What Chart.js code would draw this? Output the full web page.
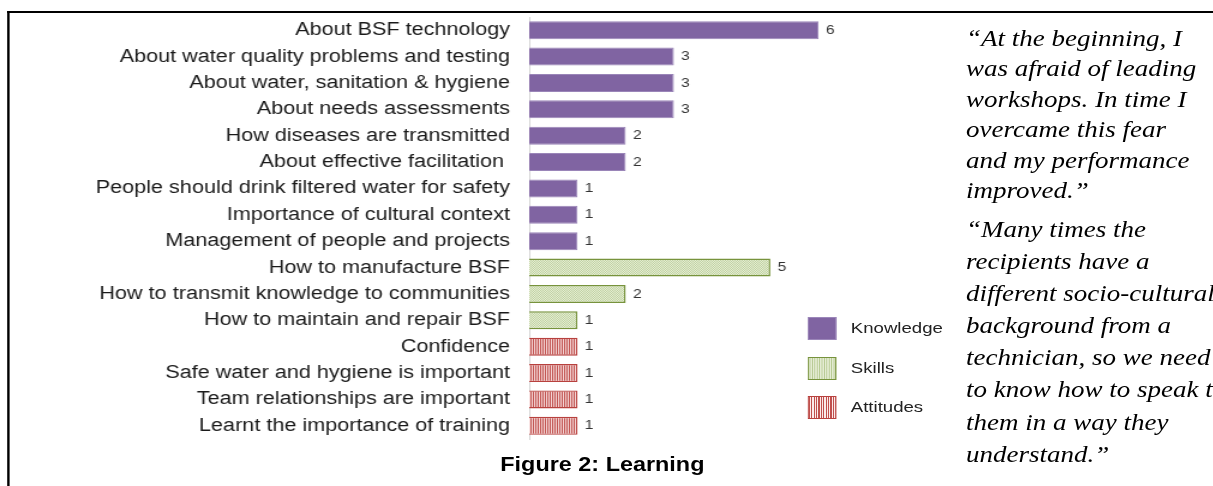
<!DOCTYPE html>
<html>
<head>
<meta charset="utf-8">
<script src="https://cdn.jsdelivr.net/npm/chart.js@4/dist/chart.umd.min.js"></script>
<style>
  html, body { margin: 0; padding: 0; background: #fff; overflow: hidden; width: 1213px; height: 486px; }
  /* the source figure is stretched sideways, so the whole page is drawn narrow and scaled */
  #page { position: absolute; left: 0; top: 0; width: 1011px; height: 486px; transform: scaleX(1.2); transform-origin: 0 0; }
  #frame { position: absolute; left: 6px; top: 11px; width: 1100px; height: 600px; border-top: 2px solid #000; border-left: 2px solid #000; }
  #chartBox { position: absolute; left: 0; top: 0; width: 800px; height: 450px; }
  .legend { position: absolute; left: 673px; font: 15.5px "Liberation Sans", Arial, sans-serif; color: #222; }
  .legend span.box { position: absolute; left: 0; top: 0; width: 23.5px; height: 23px; box-sizing: border-box; }
  .legend span.txt { position: absolute; left: 36px; top: 2px; white-space: nowrap; }
  #title { position: absolute; left: 402px; top: 453px; width: 200px; text-align: center; font: bold 19.5px "Liberation Sans", Arial, sans-serif; color: #000; }
  .quote { position: absolute; left: 805px; font: italic 22.5px "Liberation Serif", "Times New Roman", serif; color: #000; white-space: nowrap; }
</style>
</head>
<body>
<div id="page">
  <div id="frame"></div>
  <div id="chartBox"><canvas id="chart"></canvas></div>

  <div class="legend" style="top:317px"><span class="box" style="background:#8064A2;border:1px solid #9b86b9"></span><span class="txt">Knowledge</span></div>
  <div class="legend" style="top:357px"><span class="box" style="background:#e3ebd2 radial-gradient(#b3c78d 0.6px, transparent 0.8px) 0 0/2px 2px;border:1.5px solid #77933C"></span><span class="txt">Skills</span></div>
  <div class="legend" style="top:396px"><span class="box" style="background:repeating-linear-gradient(90deg,#c0504d 0 1px,#fbeaea 1px 2px);border:1.5px solid #b8413e"></span><span class="txt">Attitudes</span></div>

  <div id="title">Figure 2: Learning</div>

  <div class="quote" style="top:24px;line-height:30.4px">“At the beginning, I<br>was afraid of leading<br>workshops. In time I<br>overcame this fear<br>and my performance<br>improved.”</div>
  <div class="quote" style="top:214px;line-height:32.1px">“Many times the<br>recipients have a<br>different socio-cultural<br>background from a<br>technician, so we need<br>to know how to speak to<br>them in a way they<br>understand.”</div>
</div>

<script>
const categories = [
  "About BSF technology",
  "About water quality problems and testing",
  "About water, sanitation & hygiene",
  "About needs assessments",
  "How diseases are transmitted",
  "About effective facilitation ",
  "People should drink filtered water for safety",
  "Importance of cultural context",
  "Management of people and projects",
  "How to manufacture BSF",
  "How to transmit knowledge to communities",
  "How to maintain and repair BSF",
  "Confidence",
  "Safe water and hygiene is important",
  "Team relationships are important",
  "Learnt the importance of training"
];
const counts = [6, 3, 3, 3, 2, 2, 1, 1, 1, 5, 2, 1, 1, 1, 1, 1];
const groups = ["Knowledge", "Knowledge", "Knowledge", "Knowledge", "Knowledge", "Knowledge",
  "Knowledge", "Knowledge", "Knowledge", "Skills", "Skills", "Skills",
  "Attitudes", "Attitudes", "Attitudes", "Attitudes"];
const seriesNames = ["Knowledge", "Skills", "Attitudes"];
const axisMax = 8;

function makePattern(w, h, draw) {
  const c = document.createElement("canvas");
  c.width = w; c.height = h;
  draw(c.getContext("2d"));
  return c.getContext("2d").createPattern(c, "repeat");
}

const skillsFill = makePattern(2, 2, (g) => {
  g.fillStyle = "#e6eed8"; g.fillRect(0, 0, 2, 2);
  g.fillStyle = "#c0d29e"; g.fillRect(0, 0, 1, 1); g.fillRect(1, 1, 1, 1);
});
const attitudesFill = makePattern(2, 1, (g) => {
  g.fillStyle = "#f6dada"; g.fillRect(0, 0, 2, 1);
  g.fillStyle = "#c0504d"; g.fillRect(0, 0, 1, 1);
});

const styles = {
  Knowledge: { backgroundColor: "#8064A2", borderColor: "#9a85b8", borderWidth: 1 },
  Skills: { backgroundColor: skillsFill, borderColor: "#77933C", borderWidth: 1.5 },
  Attitudes: { backgroundColor: attitudesFill, borderColor: "#b8413e", borderWidth: 1.3 }
};

const datasets = seriesNames.map((name) => Object.assign({
  label: name,
  data: counts.map((v, i) => (groups[i] === name ? v : null)),
  barPercentage: 0.68,
  categoryPercentage: 1
}, styles[name]));

// value labels at the end of every bar
const valueLabels = {
  id: "valueLabels",
  afterDatasetsDraw(chart) {
    const ctx = chart.ctx;
    ctx.save();
    ctx.font = "13px 'Liberation Sans', Arial, sans-serif";
    ctx.fillStyle = "#333";
    ctx.textBaseline = "middle";
    chart.data.datasets.forEach((ds, di) => {
      chart.getDatasetMeta(di).data.forEach((bar, i) => {
        if (ds.data[i] == null) return;
        ctx.fillText(String(ds.data[i]), bar.x + 6, bar.y);
      });
    });
    ctx.restore();
  }
};

new Chart(document.getElementById("chart"), {
  type: "bar",
  data: { labels: categories, datasets: datasets },
  options: {
    indexAxis: "y",
    responsive: true,
    maintainAspectRatio: false,
    animation: false,
    layout: { padding: { left: 0, right: 37.5, top: 17, bottom: 11 } },
    plugins: { legend: { display: false }, tooltip: { enabled: false } },
    scales: {
      x: { display: false, stacked: true, min: 0, max: axisMax },
      y: {
        stacked: true,
        grid: { display: false, drawTicks: false },
        border: { display: true, color: "#d4d4d4", width: 1 },
        ticks: {
          color: "#1a1a1a",
          padding: 16,
          autoSkip: false,
          font: { family: "'Liberation Sans', Arial, sans-serif", size: 18 }
        },
        afterFit: (scale) => {
          scale.width = 441;
          scale.paddingTop = 0;
          scale.paddingBottom = 0;
        }
      }
    }
  },
  plugins: [valueLabels]
});
</script>
</body>
</html>
